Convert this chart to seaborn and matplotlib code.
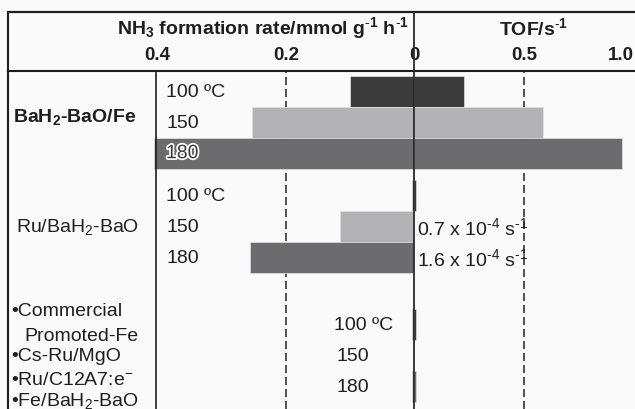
import matplotlib
matplotlib.use("Agg")
import matplotlib.pyplot as plt
import matplotlib.patheffects as pe
from matplotlib.lines import Line2D
import seaborn as sns
import pandas as pd

# ---------------- data ----------------
catalysts = ["BaH2-BaO/Fe"] * 3 + ["Ru/BaH2-BaO"] * 3 + ["Reference"] * 3
temps = ["100", "150", "180"] * 3
rates = [0.100, 0.252, 0.405, 0.004, 0.115, 0.256, 0.004, 0.0, 0.004]   # mmol g-1 h-1
tofs = [0.227, 0.585, 0.945, 0.008, 0.7e-4, 1.6e-4, 0.008, 0.0, 0.008]  # s-1
left_ticks = [0.4, 0.2, 0.0]
left_ticklabels = ["0.4", "0.2", "0"]
right_ticks = [0.5, 1.0]
right_ticklabels = ["0.5", "1.0"]

# ---------------- layout ----------------
row_pos = [0, 1, 2, 3.36, 4.36, 5.36, 7.5, 8.5, 9.5]
palette = {"100": "#3b3b3b", "150": "#b3b3b6", "180": "#6b6b6f"}

df = pd.DataFrame({"catalyst": catalysts, "temp": temps, "rate": rates,
                   "tof": tofs, "row": row_pos})

W, H = 635, 410
BG = "#fafafa"
INK = "#1e1e1e"
X0 = 414.3          # pixel of zero
LS = 642.5          # px per unit (rate)
RS = 220.0          # px per unit (TOF)
ROW0, ROWH = 92.8, 31.0

sns.set_theme(style="white")
plt.rcParams["font.family"] = ["Liberation Sans", "DejaVu Sans"]
plt.rcParams["mathtext.fontset"] = "custom"
plt.rcParams["mathtext.rm"] = "Liberation Sans"
plt.rcParams["mathtext.it"] = "Liberation Sans:italic"
plt.rcParams["mathtext.bf"] = "Liberation Sans:bold"

fig = plt.figure(figsize=(W / 100, H / 100), dpi=100, facecolor=BG)


def fx(px):
    return px / W


def fy(py):
    return 1 - py / H


def ry(py):
    return (py - ROW0) / ROWH


def lx(px):
    return (X0 - px) / LS


def rx(px):
    return (px - X0) / RS


axL = fig.add_axes([fx(8), 0, fx(X0) - fx(8), fy(72)])
axR = fig.add_axes([fx(X0), 0, fx(W) - fx(X0), fy(72)])

ylim = (ry(410), ry(72))
for ax in (axL, axR):
    ax.set_facecolor(BG)

sns.barplot(data=df, x="rate", y="row", hue="temp", palette=palette, orient="y",
            native_scale=True, width=1.0, dodge=False, legend=False, errorbar=None,
            edgecolor="#e2e2e2", linewidth=0.5, ax=axL)
sns.barplot(data=df, x="tof", y="row", hue="temp", palette=palette, orient="y",
            native_scale=True, width=1.0, dodge=False, legend=False, errorbar=None,
            edgecolor="#e2e2e2", linewidth=0.5, ax=axR)

axL.set_xlim(lx(8), 0)
axR.set_xlim(0, rx(W))
for ax in (axL, axR):
    ax.set_ylim(*ylim)
    ax.set_xlabel("")
    ax.set_ylabel("")
    ax.set_yticks([])
    ax.xaxis.tick_top()
    ax.tick_params(axis="x", length=0, pad=5.5, labelsize=13.5, colors=INK)
    for s in ("bottom", "right", "left"):
        ax.spines[s].set_visible(False)
    ax.spines["top"].set_color(INK)
    ax.spines["top"].set_linewidth(1.5)
axL.spines["left"].set_visible(True)
axL.spines["left"].set_color(INK)
axL.spines["left"].set_linewidth(1.5)

axL.set_xticks(left_ticks)
axL.set_xticklabels(left_ticklabels, fontweight="bold")
axR.set_xticks(right_ticks)
axR.set_xticklabels(right_ticklabels, fontweight="bold")
axR.get_xticklabels()[-1].set_horizontalalignment("right")

dash = (0, (4.8, 2.4))
axL.axvline(0.2, color="#333333", lw=1.2, ls=dash, zorder=0.5)
axR.axvline(0.5, color="#333333", lw=1.2, ls=dash, zorder=0.5)

# structural lines
def fline(x1, y1, x2, y2, lw=1.5, color=INK):
    fig.add_artist(Line2D([fx(x1), fx(x2)], [fy(y1), fy(y2)], lw=lw, color=color,
                          transform=fig.transFigure, zorder=5))

fline(8, 13, W, 13, lw=1.6)
fline(8, 13, 8, 72, lw=1.5)
fline(X0, 13, X0, H, lw=1.3, color="#2a2a2a")
fline(156, 72, 156, H, lw=1.2)

# header titles
fig.text(fx(409), fy(28), r"NH$_\mathbf{3}$ formation rate/mmol g$^{\mathbf{\text{-}1}}$ h$^{\mathbf{\text{-}1}}$",
         ha="right", va="center", fontsize=14, fontweight="bold", color=INK)
fig.text(fx(534), fy(28), r"TOF/s$^{\mathbf{\text{-}1}}$", ha="center", va="center",
         fontsize=14, fontweight="bold", color=INK)

# text labels
FS = 14
tkw = dict(va="center", ha="left", fontsize=FS, color=INK, zorder=6)
axL.text(lx(166), ry(92.8), "100 ºC", **tkw)
axL.text(lx(166), ry(123.8), "150", **tkw)
axL.text(lx(166), ry(154.7), "180", path_effects=[pe.withStroke(linewidth=2.5, foreground="white")],
         va="center", ha="left", fontsize=FS, color="#3a3a3a", zorder=6)
axL.text(lx(166), ry(197), "100 ºC", **tkw)
axL.text(lx(166), ry(228), "150", **tkw)
axL.text(lx(166), ry(258.7), "180", **tkw)
axL.text(lx(334), ry(325.7), "100 ºC", **tkw)
axL.text(lx(337), ry(356.2), "150", **tkw)
axL.text(lx(337), ry(387.3), "180", **tkw)

axR.text(rx(417), ry(228), r"0.7 x 10$^{\text{-}4}$ s$^{\text{-}1}$", **tkw)
axR.text(rx(417), ry(258.7), r"1.6 x 10$^{\text{-}4}$ s$^{\text{-}1}$", **tkw)

axL.text(lx(13), ry(117), r"BaH$_\mathbf{2}$-BaO/Fe", fontweight="bold", **tkw)
axL.text(lx(16), ry(227), r"Ru/BaH$_2$-BaO", **tkw)
axL.text(lx(11), ry(311.7), "•Commercial", **tkw)
axL.text(lx(24), ry(337), "Promoted-Fe", **tkw)
axL.text(lx(11), ry(356.2), "•Cs-Ru/MgO", **tkw)
axL.text(lx(11), ry(380.5), r"•Ru/C12A7:e$^{-}$", **tkw)
axL.text(lx(11), ry(401), r"•Fe/BaH$_2$-BaO", **tkw)

fig.savefig("out.png", dpi=100, facecolor=BG)
